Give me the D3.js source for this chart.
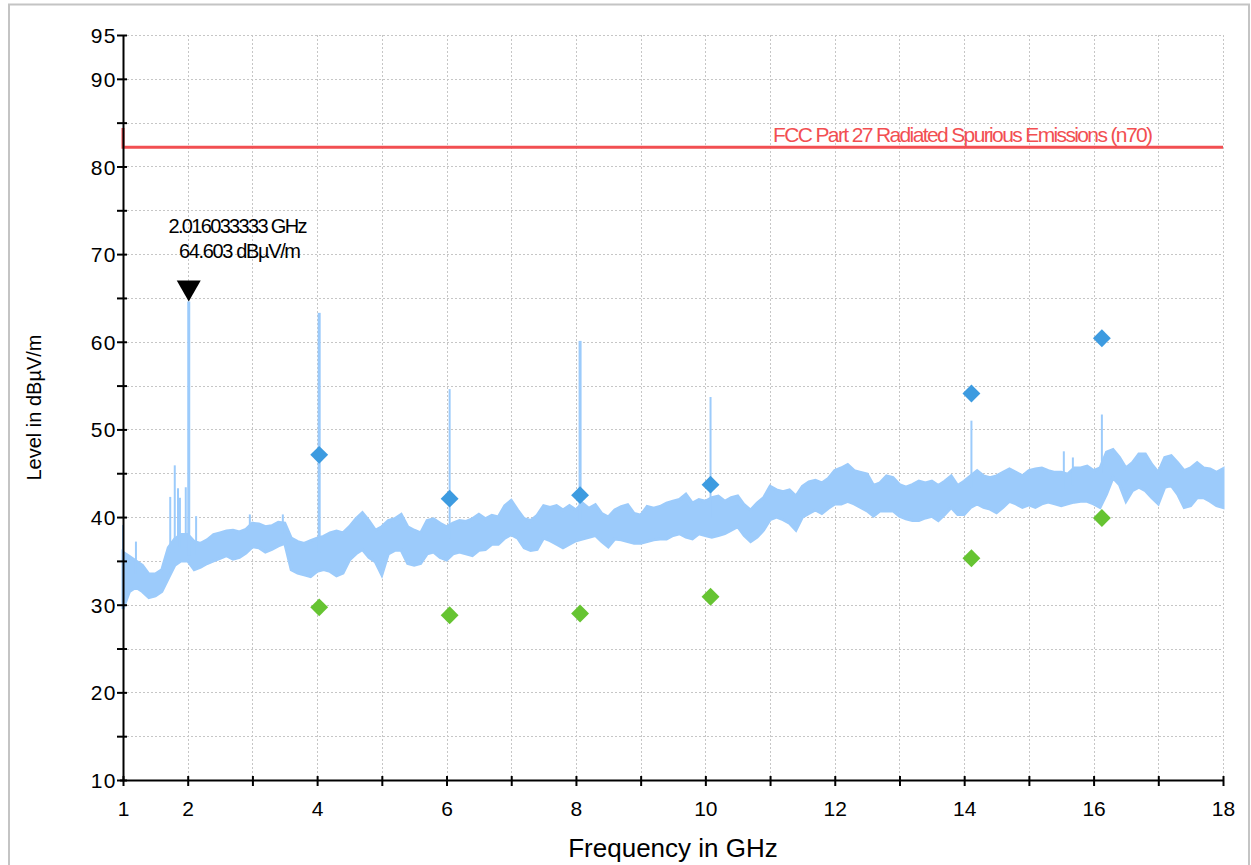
<!DOCTYPE html>
<html>
<head>
<meta charset="utf-8">
<script src="https://cdn.jsdelivr.net/npm/d3@7/dist/d3.min.js"></script>
<style>
  body { margin: 0; background: #fff; }
  svg { display: block; font-family: "Liberation Sans", Arial, sans-serif; }
</style>
</head>
<body>
<div id="chart"></div>
<script>
const traceFreq = [
  1.0, 1.1, 1.2, 1.3, 1.4, 1.5, 1.6, 1.7, 1.8, 1.9,
  2.0, 2.1, 2.2, 2.3, 2.4, 2.5, 2.6, 2.7, 2.8, 2.9,
  3.0, 3.1, 3.2, 3.3, 3.4, 3.5, 3.6, 3.7, 3.8, 3.9,
  4.0, 4.1, 4.2, 4.3, 4.4, 4.5, 4.6, 4.7, 4.8, 4.9,
  5.0, 5.1, 5.2, 5.3, 5.4, 5.5, 5.6, 5.7, 5.8, 5.9,
  6.0, 6.1, 6.2, 6.3, 6.4, 6.5, 6.6, 6.7, 6.8, 6.9,
  7.0, 7.1, 7.2, 7.3, 7.4, 7.5, 7.6, 7.7, 7.8, 7.9,
  8.0, 8.1, 8.2, 8.3, 8.4, 8.5, 8.6, 8.7, 8.8, 8.9,
  9.0, 9.1, 9.2, 9.3, 9.4, 9.5, 9.6, 9.7, 9.8, 9.9,
  10.0, 10.1, 10.2, 10.3, 10.4, 10.5, 10.6, 10.7, 10.8, 10.9,
  11.0, 11.1, 11.2, 11.3, 11.4, 11.5, 11.6, 11.7, 11.8, 11.9,
  12.0, 12.1, 12.2, 12.3, 12.4, 12.5, 12.6, 12.7, 12.8, 12.9,
  13.0, 13.1, 13.2, 13.3, 13.4, 13.5, 13.6, 13.7, 13.8, 13.9,
  14.0, 14.1, 14.2, 14.3, 14.4, 14.5, 14.6, 14.7, 14.8, 14.9,
  15.0, 15.1, 15.2, 15.3, 15.4, 15.5, 15.6, 15.7, 15.8, 15.9,
  16.0, 16.1, 16.2, 16.3, 16.4, 16.5, 16.6, 16.7, 16.8, 16.9,
  17.0, 17.1, 17.2, 17.3, 17.4, 17.5, 17.6, 17.7, 17.8, 17.9,
  18.0
];
const traceTop = [
  36.0, 35.5, 35.0, 34.5, 33.5, 33.5, 34.0, 36.5, 37.5, 38.0,
  38.0, 37.2, 37.0, 37.4, 38.0, 38.2, 38.4, 38.5, 38.3, 38.6,
  39.3, 39.2, 38.9, 39.0, 39.4, 39.3, 37.6, 37.2, 37.0, 37.3,
  37.6, 37.8, 38.2, 38.4, 38.2, 38.9, 39.8, 40.5, 39.6, 38.5,
  38.9, 39.6, 39.8, 40.3, 38.9, 38.5, 38.2, 39.6, 39.8, 39.3,
  38.9, 39.3, 39.6, 39.5, 39.8, 40.3, 39.8, 40.2, 40.0, 41.3,
  41.9, 40.8, 39.8, 39.6, 40.2, 41.3, 41.1, 41.3, 40.8, 41.3,
  40.8, 41.6, 41.0, 41.4, 40.4, 40.0, 40.8, 41.2, 41.4, 40.4,
  40.2, 41.2, 41.0, 41.2, 41.6, 41.8, 42.0, 42.6, 41.6, 42.0,
  41.8, 42.2, 42.4, 41.8, 42.2, 42.4, 41.4, 40.8, 41.6, 42.2,
  43.5, 43.1, 42.9, 43.1, 42.4, 43.5, 44.0, 44.2, 43.9, 44.4,
  45.3, 45.6, 46.0, 45.3, 45.1, 44.9, 43.6, 43.9, 44.7, 44.5,
  43.7, 43.4, 43.7, 44.1, 43.9, 44.1, 43.6, 44.1, 44.7, 43.6,
  44.1, 44.7, 45.3, 44.7, 44.5, 44.7, 45.1, 45.5, 45.1, 44.7,
  45.3, 45.5, 45.6, 45.3, 45.1, 45.1, 44.9, 45.6, 45.6, 45.8,
  45.3, 45.6, 47.4, 47.7, 46.8, 45.6, 46.2, 47.2, 47.2, 46.0,
  45.1, 46.8, 47.0, 46.2, 45.3, 45.6, 46.2, 45.6, 45.5, 45.1,
  45.5
];
const traceBottom = [
  29.5, 31.5, 32.0, 31.5, 30.8, 31.0, 31.5, 33.0, 34.5, 35.0,
  35.0, 34.0, 34.3, 34.7, 35.0, 35.3, 35.6, 35.2, 35.4, 35.9,
  36.6, 36.5, 36.0, 36.3, 36.7, 37.0, 34.0, 33.6, 33.4, 33.2,
  33.8, 34.0, 33.8, 33.3, 33.6, 35.1, 35.8, 36.3, 35.4, 34.9,
  33.4, 35.8, 36.2, 36.2, 34.7, 34.5, 34.7, 35.8, 36.0, 35.4,
  35.1, 35.8, 36.0, 35.8, 35.6, 36.2, 36.3, 36.9, 36.9, 37.6,
  38.0, 37.6, 36.5, 36.2, 36.3, 37.6, 37.3, 36.9, 36.5, 36.9,
  37.3, 37.5, 37.7, 37.9, 37.2, 36.6, 37.5, 37.4, 37.2, 37.0,
  37.0, 37.2, 37.4, 37.5, 37.5, 37.9, 38.1, 37.7, 37.5, 38.1,
  37.9, 37.7, 37.9, 38.1, 38.5, 38.9, 37.9, 37.2, 37.7, 38.5,
  39.7, 40.0, 39.7, 39.3, 38.5, 40.0, 40.4, 40.8, 40.4, 41.0,
  41.5, 41.5, 41.8, 41.5, 41.1, 40.7, 40.1, 40.7, 40.7, 40.7,
  40.1, 39.8, 39.6, 39.6, 39.9, 40.1, 39.6, 40.3, 41.1, 40.3,
  40.3, 41.1, 41.5, 41.1, 40.9, 40.5, 41.1, 41.8, 41.5, 41.1,
  41.4, 41.1, 41.5, 41.7, 41.5, 41.3, 41.5, 41.7, 41.8, 41.8,
  41.5, 41.1, 42.6, 44.5, 43.7, 41.8, 43.0, 43.4, 43.0, 42.2,
  41.5, 43.4, 43.6, 42.6, 41.1, 41.3, 42.2, 42.2, 41.8, 41.3,
  41.1
];

// narrow spikes standing out of the noise floor
const spikeFreq = [1.0, 1.2, 1.73, 1.8, 1.85, 1.88, 1.97, 2.016, 2.13, 2.96, 3.47,
  4.032, 6.048, 8.064, 10.08, 14.112, 15.54, 15.68, 16.128];
const spikeLevel = [39.1, 37.2, 42.3, 45.9, 43.3, 42.2, 43.4, 64.6, 40.1, 40.3, 40.3,
  63.3, 54.6, 60.1, 53.7, 51.0, 47.5, 46.8, 51.7];

// final measurement points
const finalFreq = [4.032, 6.048, 8.064, 10.08, 14.112, 16.128];
const peakLevel = [47.1, 42.1, 42.5, 43.7, 54.1, 60.4];
const avgLevel = [29.7, 28.8, 29.0, 30.9, 35.3, 39.9];

const limitFreq = [1, 1, 18];
const limitLevel = [84.4, 82.2, 82.2];
const limitName = 'FCC Part 27 Radiated Spurious Emissions (n70)';

const markerFreq = 2.016033333;
const markerLevel = 64.603;

const xTicks = [1, 2, 3, 4, 5, 6, 7, 8, 9, 10, 11, 12, 13, 14, 15, 16, 17, 18];
const xLabels = [1, 2, 4, 6, 8, 10, 12, 14, 16, 18];
const yTicks = [10, 15, 20, 25, 30, 35, 40, 45, 50, 55, 60, 65, 70, 75, 80, 85, 90, 95];
const yLabels = [10, 20, 30, 40, 50, 60, 70, 80, 90, 95];

const W = 1251, H = 865;
const plotLeft = 123, plotRight = 1223, plotTop = 35, plotBottom = 780;

const traceColor = '#9ccbfb';
const peakColor = '#3d9be0';
const avgColor = '#66c432';
const limitColor = '#f24f52';

const svg = d3.select('#chart')
  .append('svg')
  .attr('width', W)
  .attr('height', H);

svg.append('rect')
  .attr('x', 9).attr('y', 4.5)
  .attr('width', 1240).attr('height', 900)
  .attr('fill', '#fff')
  .attr('stroke', '#c4c4c4')
  .attr('stroke-width', 2);

const x = d3.scaleLinear().domain([1, 18]).range([plotLeft, plotRight]);
const y = d3.scaleLinear().domain([10, 95]).range([plotBottom, plotTop]);

// grid
const grid = svg.append('g')
  .attr('stroke', '#c6c6c6')
  .attr('stroke-width', 1)
  .attr('stroke-dasharray', '2,2');

grid.selectAll('.gx')
  .data(xTicks.filter(d => d > 1))
  .enter()
  .append('line')
  .attr('x1', d => Math.round(x(d)) + 0.5)
  .attr('x2', d => Math.round(x(d)) + 0.5)
  .attr('y1', plotTop)
  .attr('y2', plotBottom);

grid.selectAll('.gy')
  .data(yTicks.filter(d => d > 10))
  .enter()
  .append('line')
  .attr('x1', plotLeft)
  .attr('x2', plotRight)
  .attr('y1', d => Math.round(y(d)) + 0.5)
  .attr('y2', d => Math.round(y(d)) + 0.5);

// limit line
svg.append('path')
  .datum(limitFreq.map((f, i) => [f, limitLevel[i]]))
  .attr('fill', 'none')
  .attr('stroke', limitColor)
  .attr('stroke-width', 3)
  .attr('d', d3.line().x(d => x(d[0])).y(d => y(d[1])));

svg.append('text')
  .attr('x', 773)
  .attr('y', 142)
  .attr('fill', limitColor)
  .attr('font-size', 21)
  .attr('textLength', 380)
  .attr('lengthAdjust', 'spacing')
  .text(limitName);

// trace band
const band = traceFreq.map((f, i) => ({ f, hi: traceTop[i], lo: traceBottom[i] }));

svg.append('path')
  .datum(band)
  .attr('fill', traceColor)
  .attr('stroke', traceColor)
  .attr('stroke-width', 3)
  .attr('stroke-linejoin', 'miter')
  .attr('d', d3.area()
    .x(d => x(d.f))
    .y0(d => y(d.lo))
    .y1(d => y(d.hi)));

const floorAt = f => {
  const i = Math.min(d3.bisectLeft(traceFreq, f), traceFreq.length - 1);
  return (traceTop[i] + traceBottom[i]) / 2;
};

svg.selectAll('.spike')
  .data(spikeFreq)
  .enter()
  .append('line')
  .attr('class', 'spike')
  .attr('x1', d => x(d))
  .attr('x2', d => x(d))
  .attr('y1', d => y(floorAt(d)))
  .attr('y2', (d, i) => y(spikeLevel[i]))
  .attr('stroke', traceColor)
  .attr('stroke-width', (d, i) => spikeLevel[i] > 55 ? 3 : 2);

// final points
const diamond = d3.symbol().type(d3.symbolSquare).size(160);

svg.selectAll('.peak')
  .data(finalFreq)
  .enter()
  .append('path')
  .attr('d', diamond)
  .attr('transform', (d, i) => `translate(${x(d)},${y(peakLevel[i])}) rotate(45)`)
  .attr('fill', peakColor);

svg.selectAll('.avg')
  .data(finalFreq)
  .enter()
  .append('path')
  .attr('d', diamond)
  .attr('transform', (d, i) => `translate(${x(d)},${y(avgLevel[i])}) rotate(45)`)
  .attr('fill', avgColor);

// axes
const xAxis = d3.axisBottom(x)
  .tickValues(xTicks)
  .tickSize(5)
  .tickFormat(d => xLabels.includes(d) ? d : '');

const gx = svg.append('g')
  .attr('transform', `translate(0,${plotBottom})`)
  .call(xAxis);

gx.select('.domain').attr('stroke', '#000').attr('stroke-width', 2)
  .attr('d', `M${plotLeft - 3},0.5H${plotRight}`);
gx.selectAll('.tick line').attr('y1', -4).attr('y2', 6).attr('stroke-width', 2);
gx.selectAll('.tick text')
  .attr('y', 21)
  .attr('dy', '0.71em')
  .attr('font-size', 21)
  .attr('font-family', '"Liberation Sans", Arial, sans-serif')
  .attr('fill', '#000');

const yAxis = d3.axisLeft(y)
  .tickValues(yTicks)
  .tickSize(5)
  .tickFormat(d => yLabels.includes(d) ? d : '');

const gy = svg.append('g')
  .attr('transform', `translate(${plotLeft},0)`)
  .call(yAxis);

gy.select('.domain').attr('stroke', '#000').attr('stroke-width', 2)
  .attr('d', `M0.5,${plotTop}V${plotBottom}`);
gy.selectAll('.tick line').attr('x1', -6).attr('x2', 4).attr('stroke-width', 2);
gy.selectAll('.tick text')
  .attr('x', -6)
  .attr('dy', '0.36em')
  .attr('font-size', 21)
  .attr('letter-spacing', 1.5)
  .attr('font-family', '"Liberation Sans", Arial, sans-serif')
  .attr('fill', '#000');

svg.append('text')
  .attr('x', (plotLeft + plotRight) / 2)
  .attr('y', 857)
  .attr('text-anchor', 'middle')
  .attr('font-size', 26)
  .attr('fill', '#000')
  .text('Frequency in GHz');

svg.append('text')
  .attr('transform', `translate(41,${(plotTop + plotBottom) / 2}) rotate(-90)`)
  .attr('text-anchor', 'middle')
  .attr('font-size', 21)
  .attr('textLength', 146)
  .attr('lengthAdjust', 'spacingAndGlyphs')
  .attr('fill', '#000')
  .text('Level in dBµV/m');

// marker
const mx = x(markerFreq), my = y(markerLevel);
svg.append('path')
  .attr('d', `M${mx - 12},${my - 21}L${mx + 12},${my - 21}L${mx},${my}Z`)
  .attr('fill', '#000');

svg.append('text')
  .attr('x', 238)
  .attr('y', 233)
  .attr('text-anchor', 'middle')
  .attr('font-size', 20)
  .attr('textLength', 139)
  .attr('lengthAdjust', 'spacing')
  .text(`${markerFreq} GHz`);

svg.append('text')
  .attr('x', 240)
  .attr('y', 258)
  .attr('text-anchor', 'middle')
  .attr('font-size', 20)
  .attr('textLength', 122)
  .attr('lengthAdjust', 'spacing')
  .text(`${markerLevel} dBµV/m`);
</script>
</body>
</html>
